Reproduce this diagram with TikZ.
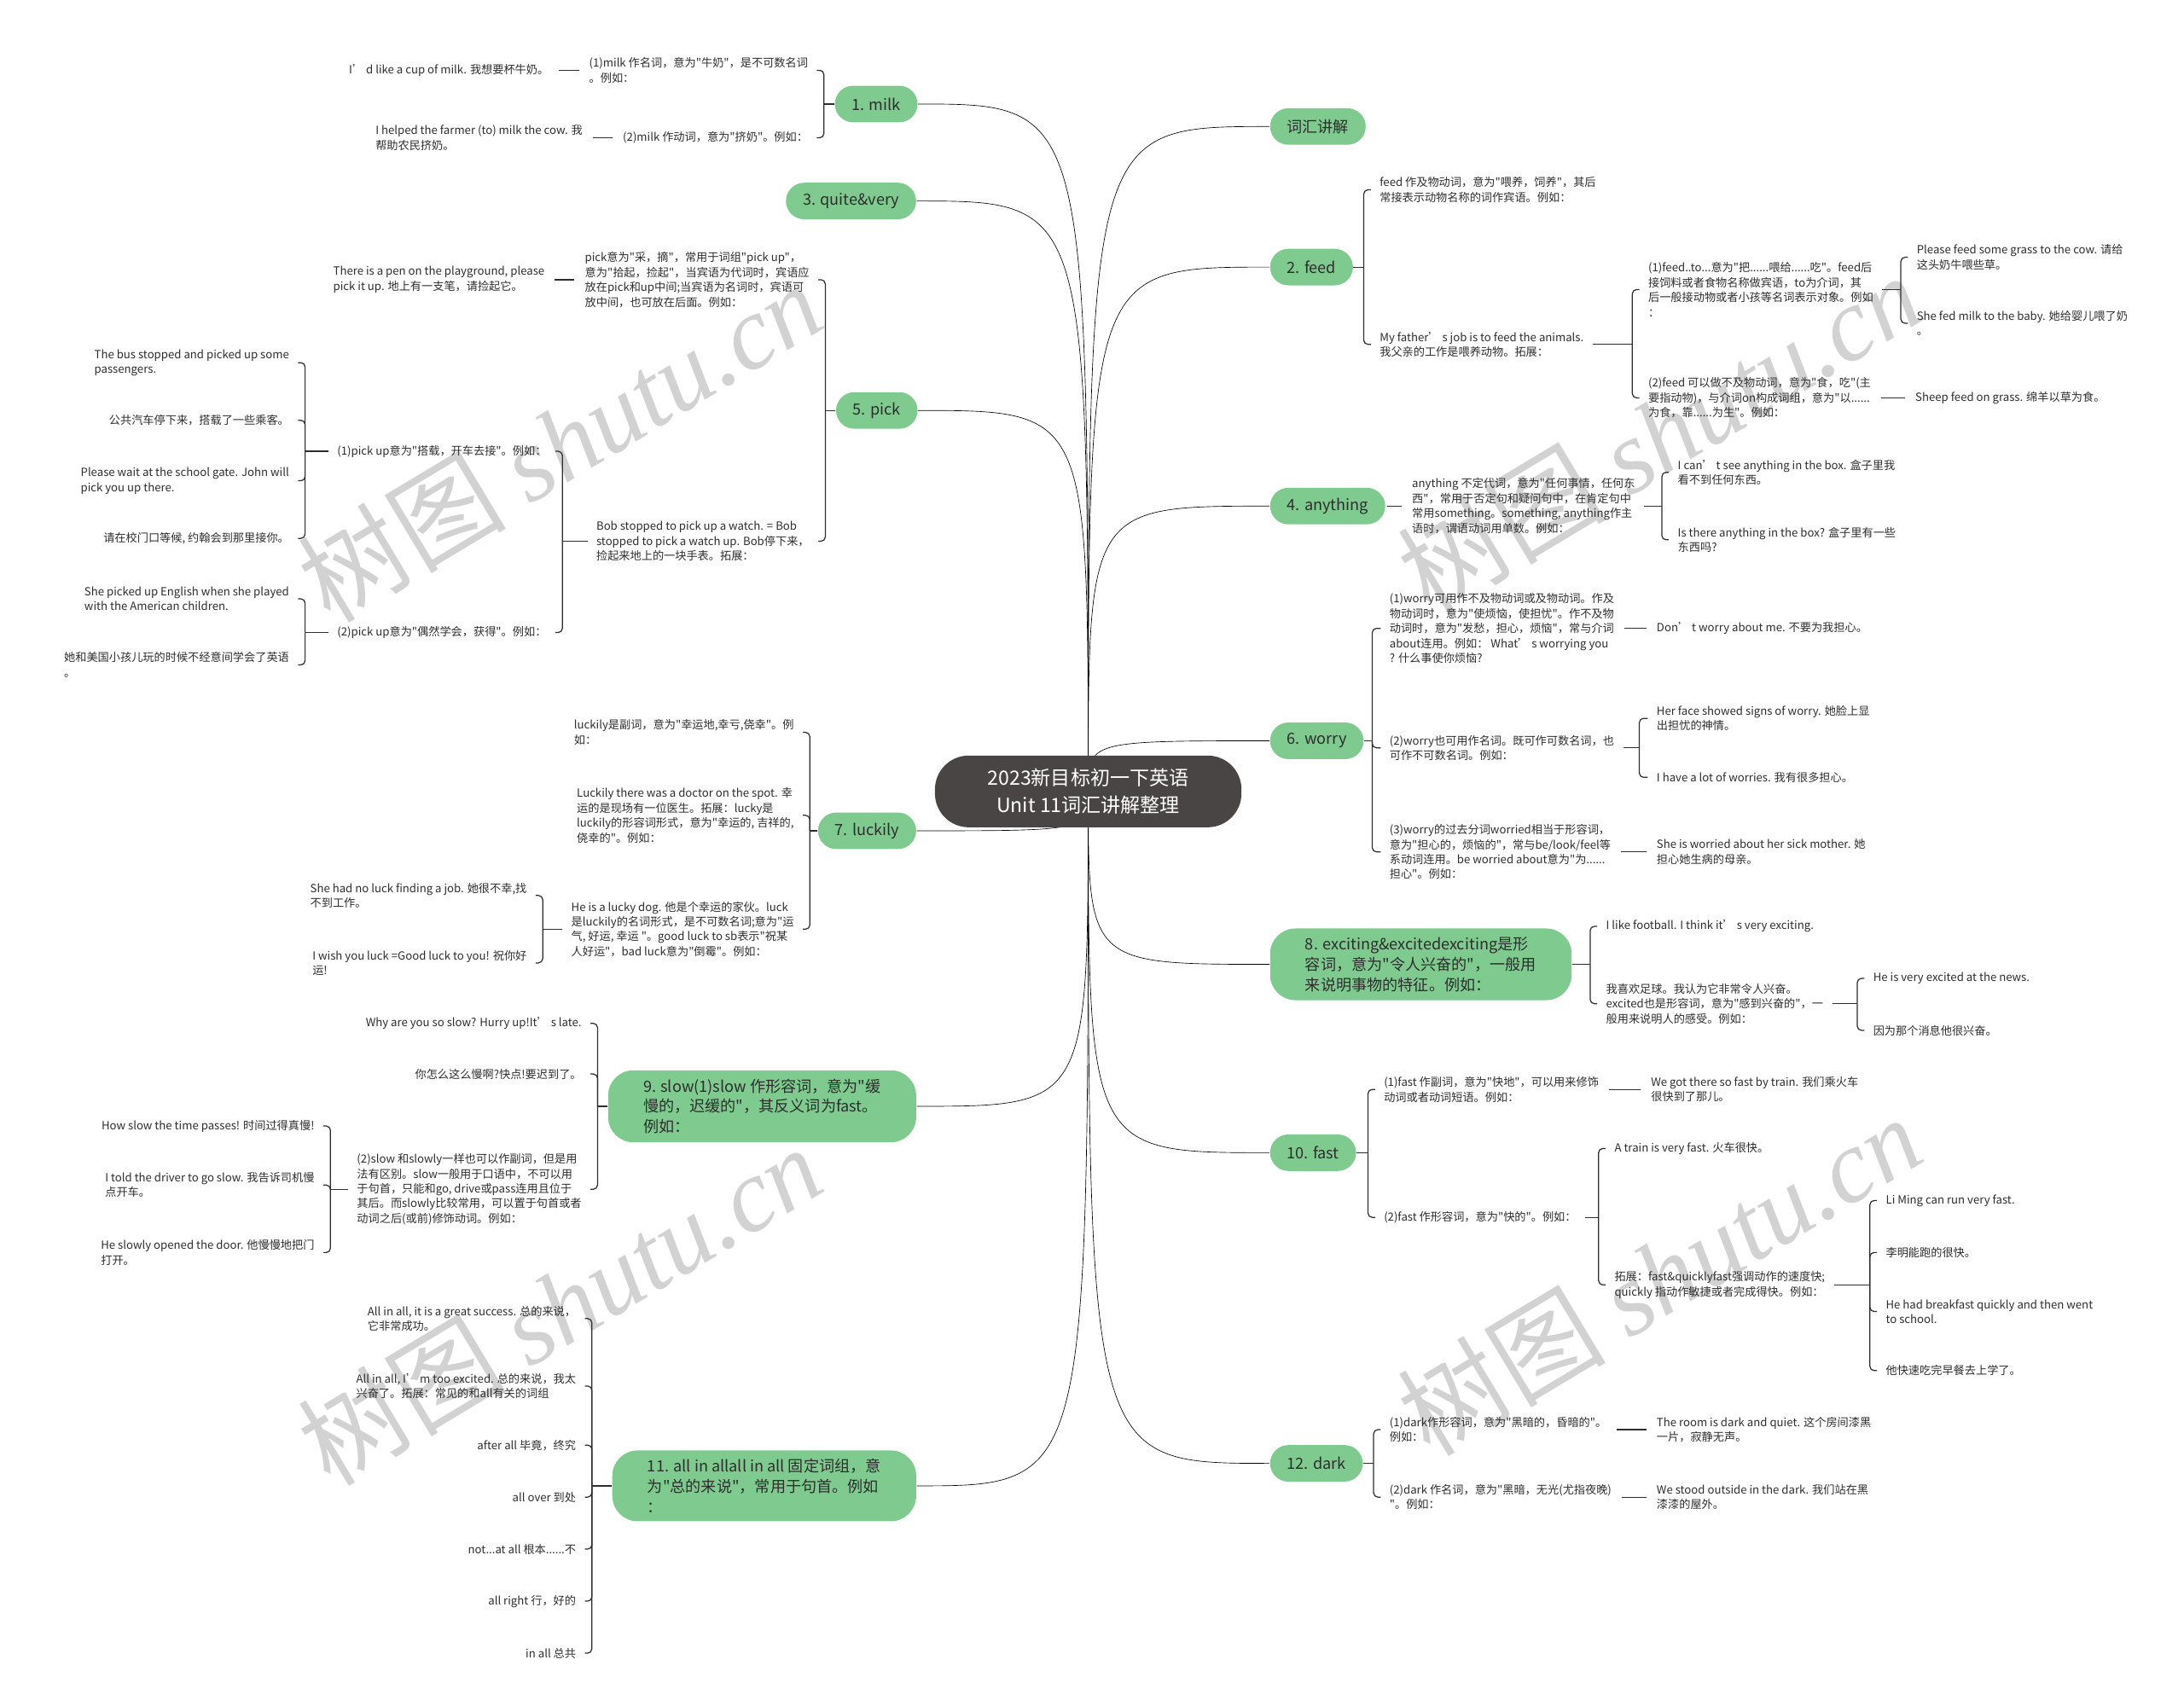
\documentclass[tikz,border=0pt]{standalone}
\usepackage{fontspec}
\setmainfont{Noto Sans CJK SC}[Ligatures=TeXOff]
\newfontfamily\wmserif{Liberation Serif}
\usepackage{tikz}
\usepackage{xcolor}
\usetikzlibrary{backgrounds}

\definecolor{leaf}{RGB}{127,203,143}
\definecolor{rootc}{RGB}{74,69,69}
\definecolor{ink}{RGB}{45,45,45}
\definecolor{wm}{RGB}{210,210,210}

\tikzset{
	root/.style={fill=rootc, text=white, rounded corners=24pt, minimum width=218pt, minimum height=51pt, align=center, font=\fontsize{14}{19}\selectfont},
	lvl/.style={fill=leaf, text=ink, rounded corners=13pt, minimum height=26pt, inner xsep=12pt, font=\fontsize{11}{14.5}\selectfont},
	bigbox/.style={lvl, rounded corners=18pt, align=left, inner xsep=25pt, inner ysep=6pt},
	txt/.style={text=ink, align=left, inner xsep=6pt, inner ysep=2pt, font=\fontsize{8}{10.6}\selectfont},
	twig/.style={rounded corners=3pt},
	tie/.style={shorten <=1pt, shorten >=1pt},
	wmark/.style={text=wm, font=\fontsize{74}{74}\selectfont}
}

\begin{document}
\begin{tikzpicture}[x=1pt,y=-1pt,line width=0.75pt,ink]
				\useasboundingbox (0,0) rectangle (1553.4,1209.3);

				\node[root] (root) at (774,563) {2023新目标初一下英语\\Unit 11词汇讲解整理};
				\coordinate (hub) at (774,563);

				\node[lvl, anchor=east] (milk) at (653,74) {1. milk};
				\node[lvl, anchor=east] (quite) at (652,143) {3. quite\&very};
				\node[lvl, anchor=east] (pick) at (653,292) {5. pick};
				\node[lvl, anchor=east] (luck) at (652,591) {7. luckily};
				\node[bigbox, anchor=east] (slow) at (652,787) {9. slow(1)slow 作形容词，意为"缓\\慢的，迟缓的"，其反义词为fast。\\例如：};
				\node[bigbox, anchor=east] (allb) at (652,1057) {11. all in allall in all 固定词组，意\\为"总的来说"，常用于句首。例如\\：};

				\node[lvl, anchor=west] (vocab) at (903,90) {词汇讲解};
				\node[lvl, anchor=west] (feed) at (903,190) {2. feed};
				\node[lvl, anchor=west] (any) at (903,360) {4. anything};
				\node[lvl, anchor=west] (worry) at (903,527) {6. worry};
				\node[bigbox, anchor=west] (exc) at (903,686) {8. exciting\&excitedexciting是形\\容词，意为"令人兴奋的"，一般用\\来说明事物的特征。例如：};
				\node[lvl, anchor=west] (fast) at (903,820) {10. fast};
				\node[lvl, anchor=west] (dark) at (903,1041) {12. dark};

				% milk
				\coordinate (milkB) at (586,74);
				\node[txt, anchor=east] (m1) at (581,50) {(1)milk 作名词，意为"牛奶"，是不可数名词\\。例如：};
				\node[txt, anchor=east] (m2) at (581,98) {(2)milk 作动词，意为"挤奶"。例如：};
				\node[txt, anchor=east] (m1x) at ([xshift=-16pt]m1.west) {I’ d like a cup of milk. 我想要杯牛奶。};
				\node[txt, anchor=east] (m2x) at ([xshift=-16pt]m2.west) {I helped the farmer (to) milk the cow. 我\\帮助农民挤奶。};
				\draw (milk.west) -- (milkB);
				\foreach \n in {m1,m2}
				{
					\draw[twig] (milkB) |- (\n.east);
				};
				\draw[tie] (m1.west) -- (m1x.east);
				\draw[tie] (m2.west) -- (m2x.east);

				% pick
				\coordinate (pickB) at (587,292);
				\node[txt, anchor=east] (p1) at (582,199) {pick意为"采，摘"，常用于词组"pick up"，\\意为"拾起，捡起"，当宾语为代词时，宾语应\\放在pick和up中间;当宾语为名词时，宾语可\\放中间，也可放在后面。例如：};
				\node[txt, anchor=east] (p2) at (582,385) {Bob stopped to pick up a watch. = Bob\\stopped to pick a watch up. Bob停下来，\\捡起来地上的一块手表。拓展：};
				\node[txt, anchor=east] (p1x) at ([xshift=-16pt]p1.west) {There is a pen on the playground, please\\pick it up. 地上有一支笔，请捡起它。};
				\draw (pick.west) -- (pickB);
				\foreach \n in {p1,p2}
				{
					\draw[twig] (pickB) |- (\n.east);
				};
				\draw[tie] (p1.west) -- (p1x.east);

				\coordinate (p2B) at (400,385);
				\node[txt, anchor=east] (p21) at (395,321) {(1)pick up意为"搭载，开车去接"。例如：};
				\node[txt, anchor=east] (p22) at (395,450) {(2)pick up意为"偶然学会，获得"。例如：};
				\draw (p2.west) -- (p2B);
				\foreach \n in {p21,p22}
				{
					\draw[twig] (p2B) |- (\n.east);
				};

				\coordinate (p21B) at (217,321);
				\node[txt, anchor=east] (p211) at (212,258) {The bus stopped and picked up some\\passengers.};
				\node[txt, anchor=east] (p212) at (212,299) {公共汽车停下来，搭载了一些乘客。};
				\node[txt, anchor=east] (p213) at (212,342) {Please wait at the school gate. John will\\pick you up there.};
				\node[txt, anchor=east] (p214) at (212,383) {请在校门口等候, 约翰会到那里接你。};
				\draw (p21.west) -- (p21B);
				\foreach \n in {p211,p212,p213,p214}
				{
					\draw[twig] (p21B) |- (\n.east);
				};

				\coordinate (p22B) at (217,450);
				\node[txt, anchor=east] (p221) at (212,426) {She picked up English when she played\\with the American children.};
				\node[txt, anchor=east] (p222) at (212,473) {她和美国小孩儿玩的时候不经意间学会了英语\\。};
				\draw (p22.west) -- (p22B);
				\foreach \n in {p221,p222}
				{
					\draw[twig] (p22B) |- (\n.east);
				};

				% luckily
				\coordinate (luckB) at (576,591);
				\node[txt, anchor=east] (l1) at (571,521) {luckily是副词，意为"幸运地,幸亏,侥幸"。例\\如：};
				\node[txt, anchor=east] (l2) at (571,580) {Luckily there was a doctor on the spot. 幸\\运的是现场有一位医生。拓展：lucky是\\luckily的形容词形式，意为"幸运的, 吉祥的,\\侥幸的"。例如：};
				\node[txt, anchor=east] (l3) at (571,661) {He is a lucky dog. 他是个幸运的家伙。luck\\是luckily的名词形式，是不可数名词;意为"运\\气, 好运, 幸运 "。good luck to sb表示"祝某\\人好运"，bad luck意为"倒霉"。例如：};
				\draw (luck.west) -- (luckB);
				\foreach \n in {l1,l2,l3}
				{
					\draw[twig] (luckB) |- (\n.east);
				};

				\coordinate (l3B) at (386,661);
				\node[txt, anchor=east] (l31) at (381,637) {She had no luck finding a job. 她很不幸,找\\不到工作。};
				\node[txt, anchor=east] (l32) at (381,685) {I wish you luck =Good luck to you! 祝你好\\运!};
				\draw (l3.west) -- (l3B);
				\foreach \n in {l31,l32}
				{
					\draw[twig] (l3B) |- (\n.east);
				};

				% slow
				\coordinate (slowB) at (425,787);
				\node[txt, anchor=east] (s1) at (420,728) {Why are you so slow? Hurry up!It’ s late.};
				\node[txt, anchor=east] (s2) at (420,764) {你怎么这么慢啊?快点!要迟到了。};
				\node[txt, anchor=east] (s3) at (420,846) {(2)slow 和slowly一样也可以作副词，但是用\\法有区别。slow一般用于口语中，不可以用\\于句首，只能和go, drive或pass连用且位于\\其后。而slowly比较常用，可以置于句首或者\\动词之后(或前)修饰动词。例如：};
				\draw (slow.west) -- (slowB);
				\foreach \n in {s1,s2,s3}
				{
					\draw[twig] (slowB) |- (\n.east);
				};

				\coordinate (s3B) at (235,846);
				\node[txt, anchor=east] (s31) at (230,801) {How slow the time passes! 时间过得真慢!};
				\node[txt, anchor=east] (s32) at (230,843) {I told the driver to go slow. 我告诉司机慢\\点开车。};
				\node[txt, anchor=east] (s33) at (230,891) {He slowly opened the door. 他慢慢地把门\\打开。};
				\draw (s3.west) -- (s3B);
				\foreach \n in {s31,s32,s33}
				{
					\draw[twig] (s3B) |- (\n.east);
				};

				% all in all
				\coordinate (allB) at (421,1057);
				\node[txt, anchor=east] (aa1) at (416,938) {All in all, it is a great success. 总的来说，\\它非常成功。};
				\node[txt, anchor=east] (aa2) at (416,986) {All in all, I’ m too excited. 总的来说，我太\\兴奋了。拓展：常见的和all有关的词组};
				\node[txt, anchor=east] (aa3) at (416,1028) {after all 毕竟，终究};
				\node[txt, anchor=east] (aa4) at (416,1065) {all over 到处};
				\node[txt, anchor=east] (aa5) at (416,1102) {not...at all 根本......不};
				\node[txt, anchor=east] (aa6) at (416,1139) {all right 行，好的};
				\node[txt, anchor=east] (aa7) at (416,1176) {in all 总共};
				\draw (allb.west) -- (allB);
				\foreach \n in {aa1,aa2,aa3,aa4,aa5,aa6,aa7}
				{
					\draw[twig] (allB) |- (\n.east);
				};

				% feed
				\coordinate (feedB) at (970,190);
				\node[txt, anchor=west] (f1) at (975,135) {feed 作及物动词，意为"喂养，饲养"，其后\\常接表示动物名称的词作宾语。例如：};
				\node[txt, anchor=west] (f2) at (975,245) {My father’ s job is to feed the animals.\\我父亲的工作是喂养动物。拓展：};
				\draw (feed.east) -- (feedB);
				\foreach \n in {f1,f2}
				{
					\draw[twig] (feedB) |- (\n.west);
				};

				\coordinate (f2B) at (1161,245);
				\node[txt, anchor=west] (f21) at (1166,206) {(1)feed..to...意为"把......喂给......吃"。feed后\\接饲料或者食物名称做宾语，to为介词，其\\后一般接动物或者小孩等名词表示对象。例如\\：};
				\node[txt, anchor=west] (f22) at (1166,283) {(2)feed 可以做不及物动词，意为"食，吃"(主\\要指动物)，与介词on构成词组，意为"以......\\为食，靠......为生"。例如：};
				\draw (f2.east) -- (f2B);
				\foreach \n in {f21,f22}
				{
					\draw[twig] (f2B) |- (\n.west);
				};

				\coordinate (f21B) at (1352,206);
				\node[txt, anchor=west] (f211) at (1357,183) {Please feed some grass to the cow. 请给\\这头奶牛喂些草。};
				\node[txt, anchor=west] (f212) at (1357,230) {She fed milk to the baby. 她给婴儿喂了奶\\。};
				\node[txt, anchor=west] (f22x) at (1356,283) {Sheep feed on grass. 绵羊以草为食。};
				\draw (f21.east) -- (f21B);
				\foreach \n in {f211,f212}
				{
					\draw[twig] (f21B) |- (\n.west);
				};
				\draw[tie] (f22.east) -- (f22x.west);

				% anything
				\node[txt, anchor=west] (a1) at (998,360) {anything 不定代词，意为"任何事情，任何东\\西"，常用于否定句和疑问句中，在肯定句中\\常用something。something, anything作主\\语时，谓语动词用单数。例如：};
				\draw[tie] (any.east) -- (a1.west);
				\coordinate (a1B) at (1182,360);
				\node[txt, anchor=west] (a11) at (1187,336) {I can’ t see anything in the box. 盒子里我\\看不到任何东西。};
				\node[txt, anchor=west] (a12) at (1187,384) {Is there anything in the box? 盒子里有一些\\东西吗?};
				\draw (a1.east) -- (a1B);
				\foreach \n in {a11,a12}
				{
					\draw[twig] (a1B) |- (\n.west);
				};

				% worry
				\coordinate (worryB) at (976,527);
				\node[txt, anchor=west] (w1) at (982,447) {(1)worry可用作不及物动词或及物动词。作及\\物动词时，意为"使烦恼，使担忧"。作不及物\\动词时，意为"发愁，担心，烦恼"，常与介词\\about连用。例如： What’ s worrying you\\? 什么事使你烦恼?};
				\node[txt, anchor=west] (w2) at (982,532) {(2)worry也可用作名词。既可作可数名词，也\\可作不可数名词。例如：};
				\node[txt, anchor=west] (w3) at (982,606) {(3)worry的过去分词worried相当于形容词，\\意为"担心的，烦恼的"，常与be/look/feel等\\系动词连用。be worried about意为"为......\\担心"。例如：};
				\draw (worry.east) -- (worryB);
				\foreach \n in {w1,w2,w3}
				{
					\draw[twig] (worryB) |- (\n.west);
				};
				\node[txt, anchor=west] (w1x) at (1172,447) {Don’ t worry about me. 不要为我担心。};
				\draw[tie] (w1.east) -- (w1x.west);
				\coordinate (w2B) at (1166,532);
				\node[txt, anchor=west] (w21) at (1172,511) {Her face showed signs of worry. 她脸上显\\出担忧的神情。};
				\node[txt, anchor=west] (w22) at (1172,553) {I have a lot of worries. 我有很多担心。};
				\draw (w2.east) -- (w2B);
				\foreach \n in {w21,w22}
				{
					\draw[twig] (w2B) |- (\n.west);
				};
				\node[txt, anchor=west] (w3x) at (1172,606) {She is worried about her sick mother. 她\\担心她生病的母亲。};
				\draw[tie] (w3.east) -- (w3x.west);

				% exciting
				\coordinate (excB) at (1131,686);
				\node[txt, anchor=west] (e1) at (1136,659) {I like football. I think it’ s very exciting.};
				\node[txt, anchor=west] (e2) at (1136,714) {我喜欢足球。我认为它非常令人兴奋。\\excited也是形容词，意为"感到兴奋的"，一\\般用来说明人的感受。例如：};
				\draw (exc.east) -- (excB);
				\foreach \n in {e1,e2}
				{
					\draw[twig] (excB) |- (\n.west);
				};
				\coordinate (e2B) at (1321,714);
				\node[txt, anchor=west] (e21) at (1326,696) {He is very excited at the news.};
				\node[txt, anchor=west] (e22) at (1326,733) {因为那个消息他很兴奋。};
				\draw (e2.east) -- (e2B);
				\foreach \n in {e21,e22}
				{
					\draw[twig] (e2B) |- (\n.west);
				};

				% fast
				\coordinate (fastB) at (973,820);
				\node[txt, anchor=west] (fa1) at (978,775) {(1)fast 作副词，意为"快地"，可以用来修饰\\动词或者动词短语。例如：};
				\node[txt, anchor=west] (fa2) at (978,866) {(2)fast 作形容词，意为"快的"。例如：};
				\draw (fast.east) -- (fastB);
				\foreach \n in {fa1,fa2}
				{
					\draw[twig] (fastB) |- (\n.west);
				};
				\node[txt, anchor=west] (fa1x) at (1168,775) {We got there so fast by train. 我们乘火车\\很快到了那儿。};
				\draw[tie] (fa1.east) -- (fa1x.west);
				\coordinate (fa2B) at (1137,866);
				\node[txt, anchor=west] (fa21) at (1142,817) {A train is very fast. 火车很快。};
				\node[txt, anchor=west] (fa22) at (1142,914) {拓展：fast\&quicklyfast强调动作的速度快;\\quickly 指动作敏捷或者完成得快。例如：};
				\draw (fa2.east) -- (fa2B);
				\foreach \n in {fa21,fa22}
				{
					\draw[twig] (fa2B) |- (\n.west);
				};
				\coordinate (fa22B) at (1330,914);
				\node[txt, anchor=west] (fa221) at (1335,854) {Li Ming can run very fast.};
				\node[txt, anchor=west] (fa222) at (1335,891) {李明能跑的很快。};
				\node[txt, anchor=west] (fa223) at (1335,933) {He had breakfast quickly and then went\\to school.};
				\node[txt, anchor=west] (fa224) at (1335,975) {他快速吃完早餐去上学了。};
				\draw (fa22.east) -- (fa22B);
				\foreach \n in {fa221,fa222,fa223,fa224}
				{
					\draw[twig] (fa22B) |- (\n.west);
				};

				% dark
				\coordinate (darkB) at (977,1041);
				\node[txt, anchor=west] (d1) at (982,1017) {(1)dark作形容词，意为"黑暗的，昏暗的"。\\例如：};
				\node[txt, anchor=west] (d2) at (982,1065) {(2)dark 作名词，意为"黑暗，无光(尤指夜晚)\\"。例如：};
				\draw (dark.east) -- (darkB);
				\foreach \n in {d1,d2}
				{
					\draw[twig] (darkB) |- (\n.west);
				};
				\node[txt, anchor=west] (d1x) at (1172,1017) {The room is dark and quiet. 这个房间漆黑\\一片，寂静无声。};
				\node[txt, anchor=west] (d2x) at (1172,1065) {We stood outside in the dark. 我们站在黑\\漆漆的屋外。};
				\draw[tie] (d1.east) -- (d1x.west);
				\draw[tie] (d2.east) -- (d2x.west);

				\begin{scope}[on background layer]
					\foreach \p in {(398,314),(1180,308),(398,928),(1180,907)}
					{
						\node[wmark, rotate=31] at \p {树图 {\wmserif\itshape shutu.cn}};
					};
					\foreach \n in {milk,quite,pick,luck,slow,allb}
					{
						\draw (hub) .. controls (hub |- \n.east) .. (\n.east);
					};
					\foreach \n in {vocab,feed,any,worry,exc,fast,dark}
					{
						\draw (hub) .. controls (hub |- \n.west) .. (\n.west);
					};
				\end{scope}
\end{tikzpicture}
\end{document}
